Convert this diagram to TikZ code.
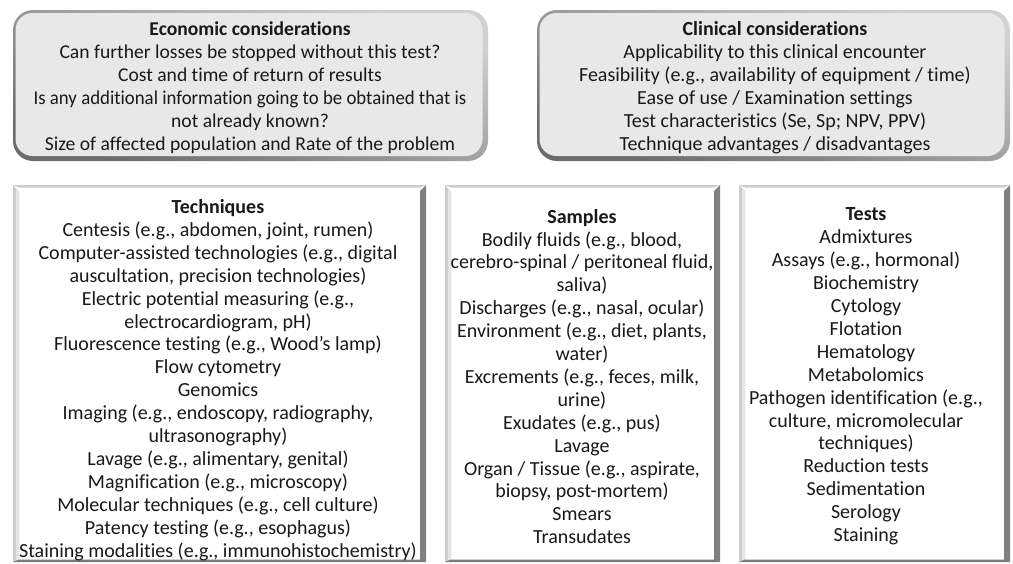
\documentclass[tikz,border=0pt]{standalone}
\usepackage{fontspec}
\setmainfont[Ligatures=NoCommon]{Carlito}
\begin{document}
\begin{tikzpicture}[x=1pt,y=-1pt,
  txt/.style={align=center,inner sep=0pt,text=black!90,font=\fontsize{20}{22.9}\selectfont},
  topbox/.style={rounded corners=20pt,shading=axis,top color=black!18,bottom color=black!58,shading angle=-20},
  topinner/.style={rounded corners=17pt,fill=black!9}]
\useasboundingbox (0,0) rectangle (1013,563);
% ---- top boxes
\path[topbox] (13,10) rectangle (488,161);
\node[topinner,draw=none,inner sep=0pt,minimum width=467pt,minimum height=143pt] (econ) at (249,84.5) {};
\path[topbox] (537,10) rectangle (1010,161);
\node[topinner,draw=none,inner sep=0pt,minimum width=465pt,minimum height=143pt] (clin) at (772,84.5) {};
\node[txt,font=\fontsize{19.6}{22.9}\selectfont] (econt) at (250,87.5) {\textbf{Economic considerations}\\
Can further losses be stopped without this test?\\
Cost and time of return of results\\
\scalebox{0.96}[1]{Is any additional information going to be obtained that is}\\
not already known?\\
Size of affected population and Rate of the problem};
\node[txt] (clint) at (775,87.5) {\textbf{Clinical considerations}\\
Applicability to this clinical encounter\\
Feasibility (e.g., availability of equipment / time)\\
Ease of use / Examination settings\\
Test characteristics (Se, Sp; NPV, PPV)\\
Technique advantages / disadvantages};
% ---- bottom boxes (bevelled frames)
\foreach \xa/\xb/\nm in {13/426/tech,445/720/samp,739/1010/test}{
  \node[fill=white,inner sep=0pt,minimum width={\xb-\xa},minimum height=377pt] (\nm) at ({(\xa+\xb)/2},373.5) {};
  \fill[black!20] (\xa,185) -- (\xb,185) -- (\xb-6,187.5) -- (\xa+6,187.5) -- cycle;
  \fill[black!20] (\xa,185) -- (\xa+6,191) -- (\xa+6,560) -- (\xa,562) -- cycle;
  \fill[black!10] (\xa+3,188) -- (\xa+6,191) -- (\xa+6,560) -- (\xa+3,561) -- cycle;
  \fill[black!50] (\xb,185) -- (\xb-6,191) -- (\xb-6,560) -- (\xb,562) -- cycle;
  \fill[black!52] (\xa,562) -- (\xb,562) -- (\xb-6,559.5) -- (\xa+6,559.5) -- cycle;
}
\node[txt] (techt) at (218,380) {\textbf{Techniques}\\
Centesis (e.g., abdomen, joint, rumen)\\
Computer-assisted technologies (e.g., digital\\
auscultation, precision technologies)\\
Electric potential measuring (e.g.,\\
electrocardiogram, pH)\\
Fluorescence testing (e.g., Wood’s lamp)\\
Flow cytometry\\
Genomics\\
Imaging (e.g., endoscopy, radiography,\\
ultrasonography)\\
Lavage (e.g., alimentary, genital)\\
Magnification (e.g., microscopy)\\
Molecular techniques (e.g., cell culture)\\
Patency testing (e.g., esophagus)\\
Staining modalities (e.g., immunohistochemistry)};
\node[txt] (sampt) at (582,376.5) {\textbf{Samples}\\
Bodily fluids (e.g., blood,\\
cerebro-spinal / peritoneal fluid,\\
saliva)\\
Discharges (e.g., nasal, ocular)\\
Environment (e.g., diet, plants,\\
water)\\
Excrements (e.g., feces, milk,\\
urine)\\
Exudates (e.g., pus)\\
Lavage\\
Organ / Tissue (e.g., aspirate,\\
biopsy, post-mortem)\\
Smears\\
Transudates};
\node[txt] (testt) at (866,376.5) {\textbf{Tests}\\
Admixtures\\
Assays (e.g., hormonal)\\
Biochemistry\\
Cytology\\
Flotation\\
Hematology\\
Metabolomics\\
Pathogen identification (e.g.,\\
culture, micromolecular\\
techniques)\\
Reduction tests\\
Sedimentation\\
Serology\\
Staining};
\end{tikzpicture}
\end{document}
